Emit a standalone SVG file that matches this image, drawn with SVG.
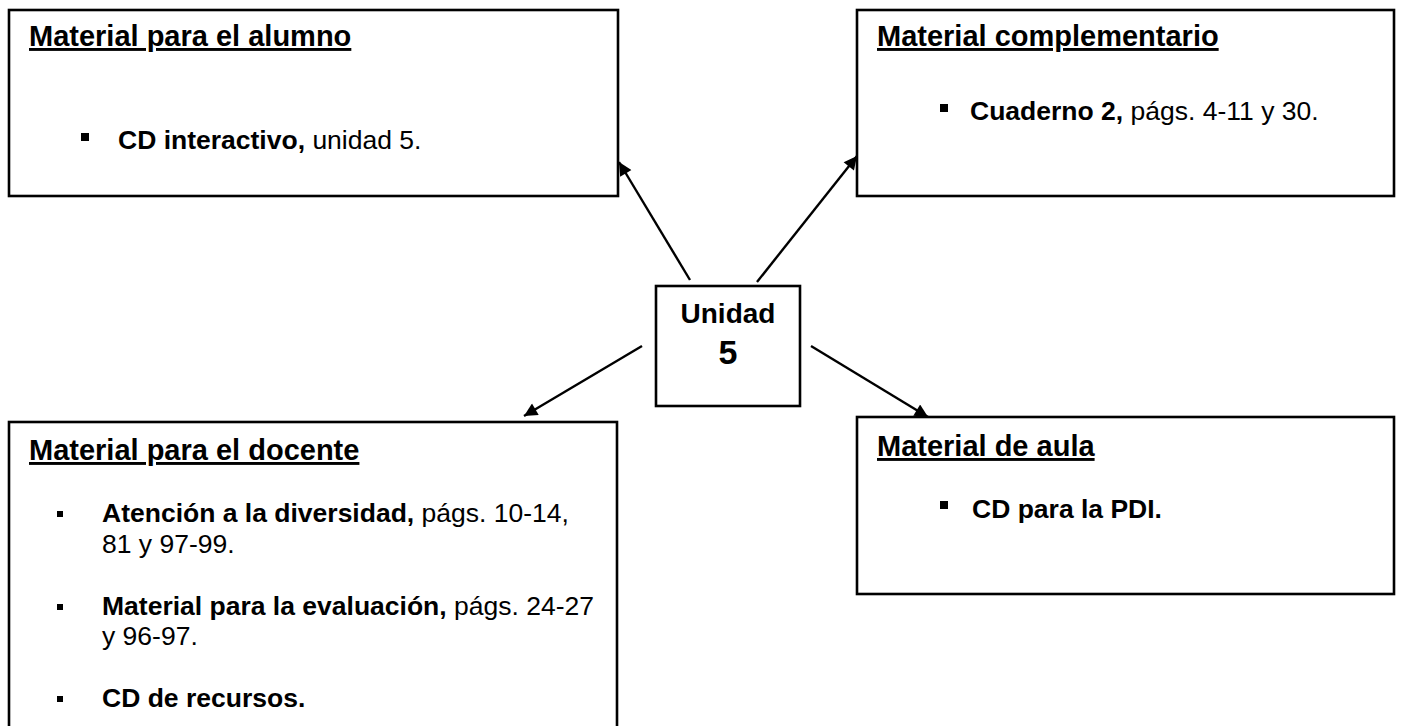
<svg xmlns="http://www.w3.org/2000/svg" width="1401" height="726" viewBox="0 0 1401 726">
<defs>
<style>
.box{fill:#fff;stroke:#000;stroke-width:2.6}
.t{font-family:"Liberation Sans",Arial,sans-serif;font-weight:bold;font-size:29px;text-decoration:underline;fill:#000}
.b{font-family:"Liberation Sans",Arial,sans-serif;font-size:26.5px;fill:#000}
.bo{font-weight:bold}
.bul{fill:#000}
.c{stroke:#000;stroke-width:2.4;fill:none;marker-end:url(#ah)}
</style>
<marker id="ah" viewBox="0 0 10 10" refX="10" refY="5" markerWidth="6" markerHeight="5.5" orient="auto" markerUnits="strokeWidth">
<path d="M0,0 L10,5 L0,10 z" fill="#000"/>
</marker>
</defs>
<rect width="1401" height="726" fill="#fff"/>
<g id="alumno">
<rect class="box" x="9" y="10" width="609" height="186"/>
<text class="t" x="29" y="46">Material para el alumno</text>
<rect class="bul" x="81" y="133" width="8" height="8"/>
<text class="b" x="118" y="149"><tspan class="bo">CD interactivo,</tspan> unidad 5.</text>
</g>
<g id="complementario">
<rect class="box" x="857" y="10" width="537" height="186"/>
<text class="t" x="877" y="46">Material complementario</text>
<rect class="bul" x="940" y="104" width="8" height="8"/>
<text class="b" x="970" y="120"><tspan class="bo">Cuaderno 2,</tspan> págs. 4-11 y 30.</text>
</g>
<g id="unidad">
<rect class="box" x="656" y="286" width="144" height="120"/>
<text class="b bo" x="728" y="323" text-anchor="middle" style="font-size:28px">Unidad</text>
<text class="b bo" x="728" y="364" text-anchor="middle" style="font-size:34px">5</text>
</g>
<g id="docente">
<rect class="box" x="9" y="422" width="608" height="320"/>
<text class="t" x="29" y="460">Material para el docente</text>
<rect class="bul" x="57" y="511" width="6" height="6"/>
<text class="b" x="102" y="522"><tspan class="bo">Atención a la diversidad,</tspan> págs. 10-14,</text>
<text class="b" x="102" y="553">81 y 97-99.</text>
<rect class="bul" x="57" y="604" width="6" height="6"/>
<text class="b" x="102" y="615"><tspan class="bo">Material para la evaluación,</tspan> págs. 24-27</text>
<text class="b" x="102" y="645">y 96-97.</text>
<rect class="bul" x="57" y="696" width="6" height="6"/>
<text class="b bo" x="102" y="707">CD de recursos.</text>
</g>
<g id="aula">
<rect class="box" x="857" y="417" width="537" height="177"/>
<text class="t" x="877" y="456">Material de aula</text>
<rect class="bul" x="940" y="501" width="8" height="8"/>
<text class="b bo" x="972" y="518">CD para la PDI.</text>
</g>
<g id="connectors">
<line class="c" x1="690" y1="280" x2="619" y2="162"/>
<line class="c" x1="757" y1="282" x2="857" y2="156"/>
<line class="c" x1="642" y1="346" x2="524" y2="416"/>
<line class="c" x1="811" y1="346" x2="928" y2="417"/>
</g>
</svg>
